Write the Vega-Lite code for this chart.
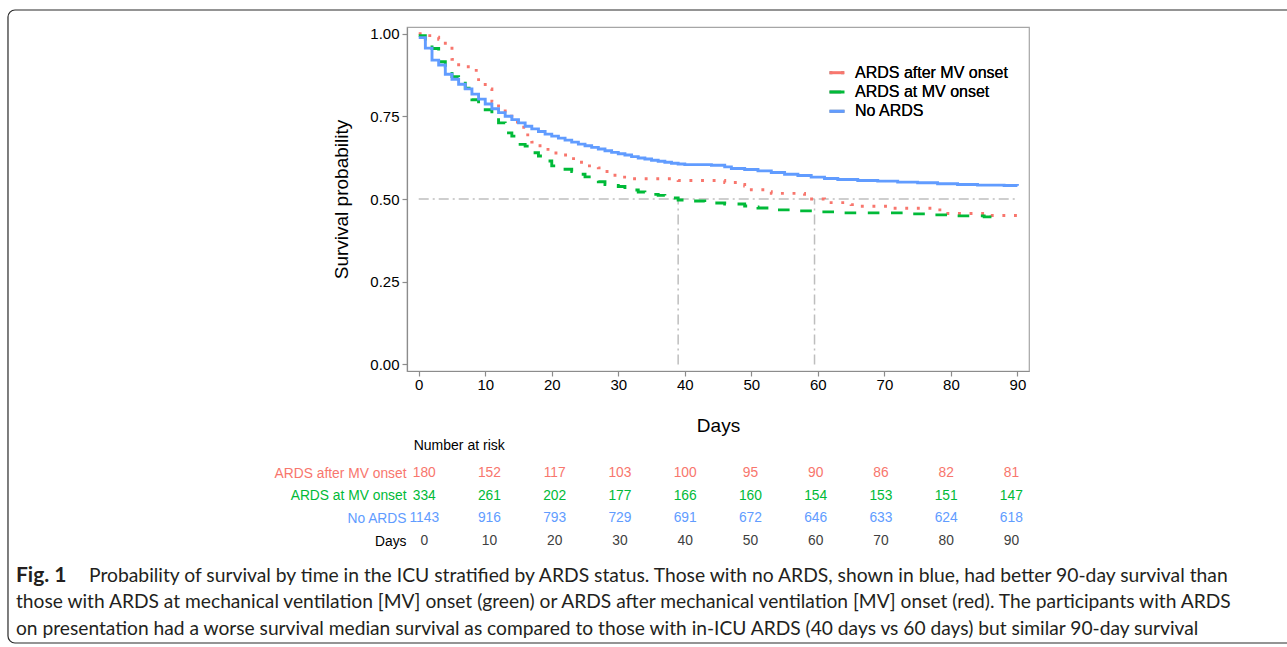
{
"$schema": "https://vega.github.io/schema/vega-lite/v6.json",
"width": 622,
"height": 344,
"autosize": {"type": "none"},
"padding": {"left": 407, "top": 27, "right": 258, "bottom": 276},
"background": "white",
"config": {
  "font": "Liberation Sans",
  "view": {"stroke": "#A6A6A6", "strokeWidth": 1.2},
  "legend": {"title": null, "orient": "none", "legendX": 421, "legendY": 36.7, "symbolType": "stroke", "symbolSize": 225, "symbolStrokeWidth": 3, "labelFontSize": 16, "labelColor": "black", "rowPadding": 2.3, "labelOffset": 9, "padding": 0}
},
"datasets": {
  "km": [
    {"group": "ARDS after MV onset", "day": 0, "surv": 1.0},
    {"group": "ARDS after MV onset", "day": 1, "surv": 0.994},
    {"group": "ARDS after MV onset", "day": 2, "surv": 0.989},
    {"group": "ARDS after MV onset", "day": 3, "surv": 0.983},
    {"group": "ARDS after MV onset", "day": 4, "surv": 0.961},
    {"group": "ARDS after MV onset", "day": 5, "surv": 0.922},
    {"group": "ARDS after MV onset", "day": 6, "surv": 0.906},
    {"group": "ARDS after MV onset", "day": 7, "surv": 0.9},
    {"group": "ARDS after MV onset", "day": 8, "surv": 0.889},
    {"group": "ARDS after MV onset", "day": 9, "surv": 0.856},
    {"group": "ARDS after MV onset", "day": 10, "surv": 0.833},
    {"group": "ARDS after MV onset", "day": 11, "surv": 0.794},
    {"group": "ARDS after MV onset", "day": 12, "surv": 0.772},
    {"group": "ARDS after MV onset", "day": 13, "surv": 0.75},
    {"group": "ARDS after MV onset", "day": 14, "surv": 0.733},
    {"group": "ARDS after MV onset", "day": 15, "surv": 0.717},
    {"group": "ARDS after MV onset", "day": 16, "surv": 0.694},
    {"group": "ARDS after MV onset", "day": 17, "surv": 0.672},
    {"group": "ARDS after MV onset", "day": 18, "surv": 0.661},
    {"group": "ARDS after MV onset", "day": 19, "surv": 0.65},
    {"group": "ARDS after MV onset", "day": 20, "surv": 0.639},
    {"group": "ARDS after MV onset", "day": 21, "surv": 0.633},
    {"group": "ARDS after MV onset", "day": 23, "surv": 0.622},
    {"group": "ARDS after MV onset", "day": 24, "surv": 0.611},
    {"group": "ARDS after MV onset", "day": 25, "surv": 0.6},
    {"group": "ARDS after MV onset", "day": 27, "surv": 0.594},
    {"group": "ARDS after MV onset", "day": 28, "surv": 0.583},
    {"group": "ARDS after MV onset", "day": 29, "surv": 0.572},
    {"group": "ARDS after MV onset", "day": 30, "surv": 0.566},
    {"group": "ARDS after MV onset", "day": 32, "surv": 0.561},
    {"group": "ARDS after MV onset", "day": 39, "surv": 0.556},
    {"group": "ARDS after MV onset", "day": 46, "surv": 0.55},
    {"group": "ARDS after MV onset", "day": 48, "surv": 0.544},
    {"group": "ARDS after MV onset", "day": 49, "surv": 0.539},
    {"group": "ARDS after MV onset", "day": 50, "surv": 0.528},
    {"group": "ARDS after MV onset", "day": 52, "surv": 0.522},
    {"group": "ARDS after MV onset", "day": 53, "surv": 0.517},
    {"group": "ARDS after MV onset", "day": 58, "surv": 0.5},
    {"group": "ARDS after MV onset", "day": 61, "surv": 0.494},
    {"group": "ARDS after MV onset", "day": 62, "surv": 0.489},
    {"group": "ARDS after MV onset", "day": 65, "surv": 0.483},
    {"group": "ARDS after MV onset", "day": 66, "surv": 0.478},
    {"group": "ARDS after MV onset", "day": 71, "surv": 0.472},
    {"group": "ARDS after MV onset", "day": 78, "surv": 0.467},
    {"group": "ARDS after MV onset", "day": 79, "surv": 0.456},
    {"group": "ARDS after MV onset", "day": 86, "surv": 0.45},
    {"group": "ARDS after MV onset", "day": 90, "surv": 0.45},
    {"group": "ARDS at MV onset", "day": 0, "surv": 0.994},
    {"group": "ARDS at MV onset", "day": 1, "surv": 0.97},
    {"group": "ARDS at MV onset", "day": 2, "surv": 0.955},
    {"group": "ARDS at MV onset", "day": 3, "surv": 0.915},
    {"group": "ARDS at MV onset", "day": 4, "surv": 0.9},
    {"group": "ARDS at MV onset", "day": 5, "surv": 0.87},
    {"group": "ARDS at MV onset", "day": 6, "surv": 0.857},
    {"group": "ARDS at MV onset", "day": 7, "surv": 0.835},
    {"group": "ARDS at MV onset", "day": 8, "surv": 0.8},
    {"group": "ARDS at MV onset", "day": 9, "surv": 0.787},
    {"group": "ARDS at MV onset", "day": 10, "surv": 0.77},
    {"group": "ARDS at MV onset", "day": 11, "surv": 0.757},
    {"group": "ARDS at MV onset", "day": 12, "surv": 0.73},
    {"group": "ARDS at MV onset", "day": 13, "surv": 0.7},
    {"group": "ARDS at MV onset", "day": 14, "surv": 0.69},
    {"group": "ARDS at MV onset", "day": 15, "surv": 0.665},
    {"group": "ARDS at MV onset", "day": 16, "surv": 0.66},
    {"group": "ARDS at MV onset", "day": 17, "surv": 0.64},
    {"group": "ARDS at MV onset", "day": 18, "surv": 0.63},
    {"group": "ARDS at MV onset", "day": 19, "surv": 0.615},
    {"group": "ARDS at MV onset", "day": 20, "surv": 0.6},
    {"group": "ARDS at MV onset", "day": 21, "surv": 0.597},
    {"group": "ARDS at MV onset", "day": 22, "surv": 0.59},
    {"group": "ARDS at MV onset", "day": 23, "surv": 0.583},
    {"group": "ARDS at MV onset", "day": 24, "surv": 0.575},
    {"group": "ARDS at MV onset", "day": 25, "surv": 0.567},
    {"group": "ARDS at MV onset", "day": 26, "surv": 0.56},
    {"group": "ARDS at MV onset", "day": 27, "surv": 0.552},
    {"group": "ARDS at MV onset", "day": 28, "surv": 0.544},
    {"group": "ARDS at MV onset", "day": 29, "surv": 0.541},
    {"group": "ARDS at MV onset", "day": 30, "surv": 0.538},
    {"group": "ARDS at MV onset", "day": 31, "surv": 0.53},
    {"group": "ARDS at MV onset", "day": 32, "surv": 0.527},
    {"group": "ARDS at MV onset", "day": 33, "surv": 0.521},
    {"group": "ARDS at MV onset", "day": 34, "surv": 0.517},
    {"group": "ARDS at MV onset", "day": 35, "surv": 0.514},
    {"group": "ARDS at MV onset", "day": 36, "surv": 0.511},
    {"group": "ARDS at MV onset", "day": 37, "surv": 0.508},
    {"group": "ARDS at MV onset", "day": 38, "surv": 0.503},
    {"group": "ARDS at MV onset", "day": 39, "surv": 0.497},
    {"group": "ARDS at MV onset", "day": 41, "surv": 0.494},
    {"group": "ARDS at MV onset", "day": 43, "surv": 0.488},
    {"group": "ARDS at MV onset", "day": 46, "surv": 0.485},
    {"group": "ARDS at MV onset", "day": 49, "surv": 0.479},
    {"group": "ARDS at MV onset", "day": 50, "surv": 0.476},
    {"group": "ARDS at MV onset", "day": 51, "surv": 0.473},
    {"group": "ARDS at MV onset", "day": 53, "surv": 0.467},
    {"group": "ARDS at MV onset", "day": 56, "surv": 0.464},
    {"group": "ARDS at MV onset", "day": 60, "surv": 0.461},
    {"group": "ARDS at MV onset", "day": 63, "surv": 0.458},
    {"group": "ARDS at MV onset", "day": 73, "surv": 0.455},
    {"group": "ARDS at MV onset", "day": 77, "surv": 0.452},
    {"group": "ARDS at MV onset", "day": 81, "surv": 0.449},
    {"group": "ARDS at MV onset", "day": 85, "surv": 0.446},
    {"group": "ARDS at MV onset", "day": 87, "surv": 0.441},
    {"group": "ARDS at MV onset", "day": 87.5, "surv": 0.441},
    {"group": "No ARDS", "day": 0, "surv": 0.988},
    {"group": "No ARDS", "day": 1, "surv": 0.956},
    {"group": "No ARDS", "day": 2, "surv": 0.92},
    {"group": "No ARDS", "day": 3, "surv": 0.905},
    {"group": "No ARDS", "day": 4, "surv": 0.877},
    {"group": "No ARDS", "day": 5, "surv": 0.862},
    {"group": "No ARDS", "day": 6, "surv": 0.847},
    {"group": "No ARDS", "day": 7, "surv": 0.833},
    {"group": "No ARDS", "day": 8, "surv": 0.817},
    {"group": "No ARDS", "day": 9, "surv": 0.802},
    {"group": "No ARDS", "day": 10, "surv": 0.787},
    {"group": "No ARDS", "day": 11, "surv": 0.773},
    {"group": "No ARDS", "day": 12, "surv": 0.761},
    {"group": "No ARDS", "day": 13, "surv": 0.75},
    {"group": "No ARDS", "day": 14, "surv": 0.74},
    {"group": "No ARDS", "day": 15, "surv": 0.73},
    {"group": "No ARDS", "day": 16, "surv": 0.72},
    {"group": "No ARDS", "day": 17, "surv": 0.712},
    {"group": "No ARDS", "day": 18, "surv": 0.704},
    {"group": "No ARDS", "day": 19, "surv": 0.696},
    {"group": "No ARDS", "day": 20, "surv": 0.69},
    {"group": "No ARDS", "day": 21, "surv": 0.684},
    {"group": "No ARDS", "day": 22, "surv": 0.678},
    {"group": "No ARDS", "day": 23, "surv": 0.672},
    {"group": "No ARDS", "day": 24, "surv": 0.666},
    {"group": "No ARDS", "day": 25, "surv": 0.661},
    {"group": "No ARDS", "day": 26, "surv": 0.656},
    {"group": "No ARDS", "day": 27, "surv": 0.651},
    {"group": "No ARDS", "day": 28, "surv": 0.646},
    {"group": "No ARDS", "day": 29, "surv": 0.641},
    {"group": "No ARDS", "day": 30, "surv": 0.637},
    {"group": "No ARDS", "day": 31, "surv": 0.633},
    {"group": "No ARDS", "day": 32, "surv": 0.628},
    {"group": "No ARDS", "day": 33, "surv": 0.624},
    {"group": "No ARDS", "day": 34, "surv": 0.621},
    {"group": "No ARDS", "day": 35, "surv": 0.617},
    {"group": "No ARDS", "day": 36, "surv": 0.614},
    {"group": "No ARDS", "day": 37, "surv": 0.611},
    {"group": "No ARDS", "day": 38, "surv": 0.608},
    {"group": "No ARDS", "day": 39, "surv": 0.606},
    {"group": "No ARDS", "day": 40, "surv": 0.604},
    {"group": "No ARDS", "day": 44, "surv": 0.602},
    {"group": "No ARDS", "day": 46, "surv": 0.597},
    {"group": "No ARDS", "day": 47, "surv": 0.592},
    {"group": "No ARDS", "day": 49, "surv": 0.589},
    {"group": "No ARDS", "day": 51, "surv": 0.585},
    {"group": "No ARDS", "day": 53, "surv": 0.58},
    {"group": "No ARDS", "day": 55, "surv": 0.575},
    {"group": "No ARDS", "day": 57, "surv": 0.571},
    {"group": "No ARDS", "day": 59, "surv": 0.566},
    {"group": "No ARDS", "day": 61, "surv": 0.562},
    {"group": "No ARDS", "day": 63, "surv": 0.559},
    {"group": "No ARDS", "day": 66, "surv": 0.556},
    {"group": "No ARDS", "day": 69, "surv": 0.554},
    {"group": "No ARDS", "day": 72, "surv": 0.551},
    {"group": "No ARDS", "day": 75, "surv": 0.549},
    {"group": "No ARDS", "day": 78, "surv": 0.546},
    {"group": "No ARDS", "day": 81, "surv": 0.544},
    {"group": "No ARDS", "day": 84, "surv": 0.542},
    {"group": "No ARDS", "day": 88, "surv": 0.541},
    {"group": "No ARDS", "day": 90, "surv": 0.54}
  ],
  "median": [
    {"day": 0, "day2": 90, "surv": 0.5, "surv2": 0.5},
    {"day": 39, "day2": 39, "surv": 0, "surv2": 0.5},
    {"day": 59.5, "day2": 59.5, "surv": 0, "surv2": 0.5}
  ],
  "risk": [
    {"group": "ARDS after MV onset", "day": 0, "n": 180},
    {"group": "ARDS after MV onset", "day": 10, "n": 152},
    {"group": "ARDS after MV onset", "day": 20, "n": 117},
    {"group": "ARDS after MV onset", "day": 30, "n": 103},
    {"group": "ARDS after MV onset", "day": 40, "n": 100},
    {"group": "ARDS after MV onset", "day": 50, "n": 95},
    {"group": "ARDS after MV onset", "day": 60, "n": 90},
    {"group": "ARDS after MV onset", "day": 70, "n": 86},
    {"group": "ARDS after MV onset", "day": 80, "n": 82},
    {"group": "ARDS after MV onset", "day": 90, "n": 81},
    {"group": "ARDS at MV onset", "day": 0, "n": 334},
    {"group": "ARDS at MV onset", "day": 10, "n": 261},
    {"group": "ARDS at MV onset", "day": 20, "n": 202},
    {"group": "ARDS at MV onset", "day": 30, "n": 177},
    {"group": "ARDS at MV onset", "day": 40, "n": 166},
    {"group": "ARDS at MV onset", "day": 50, "n": 160},
    {"group": "ARDS at MV onset", "day": 60, "n": 154},
    {"group": "ARDS at MV onset", "day": 70, "n": 153},
    {"group": "ARDS at MV onset", "day": 80, "n": 151},
    {"group": "ARDS at MV onset", "day": 90, "n": 147},
    {"group": "No ARDS", "day": 0, "n": 1143},
    {"group": "No ARDS", "day": 10, "n": 916},
    {"group": "No ARDS", "day": 20, "n": 793},
    {"group": "No ARDS", "day": 30, "n": 729},
    {"group": "No ARDS", "day": 40, "n": 691},
    {"group": "No ARDS", "day": 50, "n": 672},
    {"group": "No ARDS", "day": 60, "n": 646},
    {"group": "No ARDS", "day": 70, "n": 633},
    {"group": "No ARDS", "day": 80, "n": 624},
    {"group": "No ARDS", "day": 90, "n": 618},
    {"group": "Days", "day": 0, "n": 0},
    {"group": "Days", "day": 10, "n": 10},
    {"group": "Days", "day": 20, "n": 20},
    {"group": "Days", "day": 30, "n": 30},
    {"group": "Days", "day": 40, "n": 40},
    {"group": "Days", "day": 50, "n": 50},
    {"group": "Days", "day": 60, "n": 60},
    {"group": "Days", "day": 70, "n": 70},
    {"group": "Days", "day": 80, "n": 80},
    {"group": "Days", "day": 90, "n": 90}
  ]
},
"resolve": {"scale": {"x": "independent", "y": "independent", "color": "independent"}, "axis": {"x": "independent", "y": "independent"}, "legend": {"color": "independent"}},
"layer": [
  {
    "layer": [
      {
        "data": {"values": [{}]},
        "mark": {"type": "rect", "fillOpacity": 0, "stroke": "#2A2A2A", "strokeWidth": 1.2, "cornerRadius": 7},
        "encoding": {
          "x": {"datum": -61.74, "scale": {"domain": [-1.76, 91.74], "nice": false, "zero": false}},
          "x2": {"datum": 132.48},
          "y": {"datum": 1.0714, "scale": {"domain": [-0.02, 1.02], "nice": false, "zero": false}},
          "y2": {"datum": -0.8423}
        }
      },
      {
        "data": {"name": "median"},
        "mark": {"type": "rule", "color": "#BEBEBE", "strokeWidth": 1.5, "strokeDash": [10, 4, 2, 4]},
        "encoding": {
          "x": {"field": "day", "type": "quantitative"},
          "x2": {"field": "day2"},
          "y": {"field": "surv", "type": "quantitative"},
          "y2": {"field": "surv2"}
        }
      },
      {
        "data": {"name": "km"},
        "mark": {"type": "line", "interpolate": "step-after", "strokeWidth": 2.9, "strokeCap": "butt"},
        "encoding": {
          "x": {"field": "day", "type": "quantitative", "scale": {"domain": [-1.76, 91.74], "nice": false, "zero": false},
                "axis": {"values": [0, 10, 20, 30, 40, 50, 60, 70, 80, 90], "format": "d", "title": "Days", "grid": false, "domainColor": "#8C8C8C", "domainWidth": 1.2, "tickColor": "#8C8C8C", "tickWidth": 1.2, "tickSize": 5, "labelPadding": 1, "labelFontSize": 15, "labelColor": "black", "titleFontSize": 19, "titleFontWeight": "normal", "titleColor": "black", "titlePadding": 24, "labelFlush": false}},
          "y": {"field": "surv", "type": "quantitative", "scale": {"domain": [-0.02, 1.02], "nice": false, "zero": false},
                "axis": {"orient": "left", "values": [0, 0.25, 0.5, 0.75, 1], "format": ".2f", "title": "Survival probability", "grid": false, "domainColor": "#8C8C8C", "domainWidth": 1.2, "tickColor": "#8C8C8C", "tickWidth": 1.2, "tickSize": 5, "labelPadding": 3, "labelFontSize": 15, "labelColor": "black", "titleFontSize": 19, "titleFontWeight": "normal", "titleColor": "black", "titlePadding": 18, "labelFlush": false}},
          "color": {"field": "group", "type": "nominal", "scale": {"domain": ["ARDS after MV onset", "ARDS at MV onset", "No ARDS"], "range": ["#F8766D", "#00BA38", "#619CFF"]}},
          "strokeDash": {"field": "group", "type": "nominal", "scale": {"domain": ["ARDS after MV onset", "ARDS at MV onset", "No ARDS"], "range": [[2.9, 8.7], [11.6, 11.6], [1, 0]]}}
        }
      },
      {
        "data": {"values": [{}]},
        "mark": {"type": "text", "text": "Fig. 1", "font": "Lato", "fontSize": 21, "fontWeight": "bold", "align": "left", "baseline": "alphabetic", "color": "#231F20"},
        "encoding": {"x": {"datum": -60.54}, "y": {"datum": -0.6564}}
      },
      {
        "data": {"values": [{}]},
        "mark": {"type": "text", "text": "Probability of survival by time in the ICU stratified by ARDS status. Those with no ARDS, shown in blue, had better 90-day survival than", "font": "Lato", "fontSize": 19.3, "align": "left", "baseline": "alphabetic", "color": "#231F20"},
        "encoding": {"x": {"datum": -49.56}, "y": {"datum": -0.6564}}
      },
      {
        "data": {"values": [{}]},
        "mark": {"type": "text", "text": ["those with ARDS at mechanical ventilation [MV] onset (green) or ARDS after mechanical ventilation [MV] onset (red). The participants with ARDS", "on presentation had a worse survival median survival as compared to those with in-ICU ARDS (40 days vs 60 days) but similar 90-day survival"], "lineHeight": 27, "font": "Lato", "fontSize": 19.2, "align": "left", "baseline": "alphabetic", "color": "#231F20"},
        "encoding": {"x": {"datum": -60.54}, "y": {"datum": -0.738}}
      }
    ]
  },
  {
    "data": {"name": "risk"},
    "layer": [
      {
        "mark": {"type": "text", "fontSize": 13.8, "align": "center", "baseline": "middle"},
        "encoding": {
          "x": {"field": "day", "type": "quantitative", "scale": {"domain": [-2.64, 92.7], "nice": false, "zero": false}, "axis": null},
          "y": {"field": "group", "type": "nominal", "scale": {"type": "point", "domain": ["ARDS after MV onset", "ARDS at MV onset", "No ARDS", "Days"], "range": [446.3, 514], "padding": 0},
                "axis": {"orient": "left", "title": null, "domain": false, "ticks": false, "tickSize": 0, "labelPadding": 1, "labelFontSize": 13.8, "labelOverlap": false, "grid": false,
                         "labelColor": {"condition": [
                           {"test": "datum.value === 'ARDS after MV onset'", "value": "#F8766D"},
                           {"test": "datum.value === 'ARDS at MV onset'", "value": "#00BA38"},
                           {"test": "datum.value === 'No ARDS'", "value": "#619CFF"}
                         ], "value": "black"}}},
          "text": {"field": "n", "type": "quantitative", "format": "d"},
          "color": {"field": "group", "type": "nominal", "scale": {"domain": ["ARDS after MV onset", "ARDS at MV onset", "No ARDS", "Days"], "range": ["#F8766D", "#00BA38", "#619CFF", "#404040"]}, "legend": null}
        }
      },
      {
        "data": {"values": [{}]},
        "mark": {"type": "text", "text": "Number at risk", "fontSize": 14, "align": "left", "baseline": "middle", "dx": -10.5, "dy": -27.6, "color": "black"},
        "encoding": {"x": {"datum": 0}, "y": {"datum": "ARDS after MV onset"}}
      }
    ]
  }
]
}
